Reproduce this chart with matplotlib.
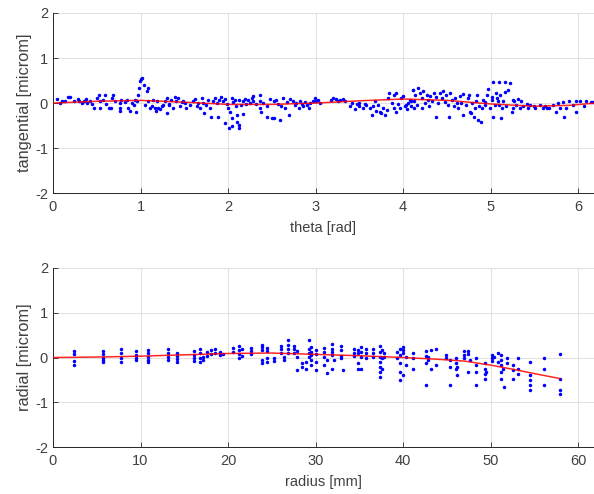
import matplotlib
matplotlib.use("Agg")
import matplotlib.pyplot as plt

plt.rcParams["font.family"] = ["Liberation Sans", "DejaVu Sans"]
plt.rcParams["axes.unicode_minus"] = False

# tangential error vs theta
theta_pts = [
    0.05, 0.08, 0.10, 0.14, 0.17, 0.20, 0.24, 0.29, 0.30, 0.33, 0.35, 0.38, 0.39, 0.42, 0.45, 0.47,
    0.50, 0.52, 0.54, 0.54, 0.57, 0.59, 0.61, 0.64, 0.66, 0.67, 0.69, 0.71, 0.76, 0.76, 0.76, 0.78,
    0.82, 0.85, 0.86, 0.88, 0.90, 0.92, 0.94, 0.95, 0.96, 0.97, 0.98, 0.99, 1.00, 1.02, 1.04, 1.05,
    1.07, 1.08, 1.09, 1.11, 1.13, 1.14, 1.16, 1.18, 1.19, 1.20, 1.22, 1.24, 1.26, 1.28, 1.30, 1.30,
    1.32, 1.33, 1.35, 1.37, 1.39, 1.41, 1.43, 1.45, 1.47, 1.49, 1.51, 1.52, 1.56, 1.60, 1.62, 1.64,
    1.66, 1.68, 1.70, 1.71, 1.73, 1.75, 1.77, 1.79, 1.81, 1.83, 1.85, 1.87, 1.89, 1.90, 1.92, 1.94,
    1.96, 1.97, 1.99, 2.00, 2.01, 2.02, 2.04, 2.05,
    2.04, 2.06, 2.08, 2.09, 2.10, 2.10, 2.12, 2.13, 2.13, 2.15, 2.17, 2.17, 2.19, 2.21, 2.23, 2.25,
    2.27, 2.29, 2.29, 2.32, 2.36, 2.36, 2.37, 2.38, 2.40, 2.44, 2.45, 2.48, 2.50, 2.52, 2.53, 2.55,
    2.57, 2.59, 2.61, 2.63, 2.65, 2.67, 2.70, 2.71, 2.74, 2.76, 2.78, 2.81, 2.82, 2.84, 2.86, 2.88,
    2.90, 2.93, 2.94, 2.97, 2.99, 3.01, 3.03, 3.05, 3.18, 3.20, 3.23, 3.26, 3.28, 3.31, 3.33, 3.39,
    3.41, 3.45, 3.47, 3.49, 3.50, 3.54, 3.56, 3.58, 3.62, 3.64, 3.66, 3.68, 3.69, 3.71, 3.73, 3.75,
    3.77, 3.79, 3.81, 3.83, 3.84, 3.87, 3.89, 3.90, 3.92, 3.92, 3.94, 3.96, 3.98, 4.00, 4.02, 4.03,
    4.04, 4.06, 4.08, 4.09, 4.11, 4.12,
    4.09, 4.11, 4.12, 4.14, 4.16, 4.17, 4.19, 4.21, 4.22, 4.23, 4.25, 4.27, 4.28, 4.30, 4.31, 4.33,
    4.35, 4.37, 4.38, 4.40, 4.42, 4.44, 4.46, 4.48, 4.49, 4.51, 4.52, 4.54, 4.56, 4.58, 4.59, 4.61,
    4.63, 4.65, 4.66, 4.68, 4.68, 4.72, 4.74, 4.75, 4.76, 4.78, 4.79, 4.81, 4.82, 4.83, 4.84, 4.86,
    4.87, 4.89, 4.90, 4.91, 4.93, 4.94, 4.96, 4.97, 4.99, 5.01, 5.02, 5.03, 5.03, 5.05, 5.06, 5.07,
    5.08, 5.10, 5.10, 5.11, 5.12, 5.13, 5.14, 5.16, 5.16, 5.18, 5.20, 5.22, 5.24, 5.25, 5.26, 5.27,
    5.29, 5.31, 5.33, 5.35, 5.37, 5.41, 5.43, 5.45, 5.50, 5.51, 5.56, 5.60, 5.62, 5.64, 5.67, 5.71,
    5.75, 5.77, 5.79, 5.83, 5.84, 5.86, 5.90, 5.94, 5.97, 5.98, 6.02, 6.07, 6.09, 6.15, 6.17,
]
tangential_pts = [
    0.09, 0.00, 0.04, 0.05, 0.13, 0.13, 0.05, 0.10, 0.04, 0.00, 0.05, 0.09, 0.01, 0.05, -0.02, -0.10,
    0.11, 0.19, 0.04, -0.11, 0.07, 0.19, -0.02, -0.10, -0.11, 0.11, 0.17, 0.05, 0.00, -0.11, -0.17, 0.07,
    0.02, 0.07, -0.11, -0.17, 0.00, -0.05, 0.07, -0.20, 0.04, 0.19, 0.33, 0.48, 0.54, 0.56, 0.41, -0.05,
    0.26, 0.33, 0.04, -0.11, -0.07, 0.07, -0.11, -0.17, 0.04, -0.10, -0.13, -0.07, -0.04, 0.04, -0.22, 0.11,
    -0.05, -0.02, 0.07, -0.10, 0.13, 0.04, 0.11, -0.07, 0.02, 0.05, 0.00, -0.11, -0.04, 0.04, 0.10, -0.07,
    0.00, -0.11, 0.11, 0.00, -0.22, -0.04, 0.07, -0.11, -0.32, 0.04, 0.11, 0.00, -0.30, 0.07, 0.13, 0.04,
    0.10, -0.44, -0.02, -0.11, -0.56, -0.19, -0.33, -0.52,
    0.11, 0.02, 0.07, -0.07, -0.26, -0.41, -0.48, -0.56, 0.07, -0.04, -0.24, 0.04, 0.10, -0.02, 0.07, 0.00,
    0.11, 0.04, 0.15, -0.02, 0.17, 0.04, -0.11, -0.19, 0.00, -0.07, -0.30, 0.10, -0.33, 0.04, -0.33, 0.07,
    -0.02, -0.37, -0.07, 0.11, -0.11, 0.02, -0.26, 0.10, 0.05, -0.04, 0.00, -0.11, 0.04, -0.02, -0.07, 0.02,
    -0.04, -0.11, 0.00, 0.05, 0.11, 0.04, 0.07, 0.00, 0.07, 0.11, 0.10, 0.05, 0.07, 0.10, 0.05, -0.07,
    0.00, -0.13, -0.02, -0.07, 0.00, -0.11, -0.02, -0.05, -0.11, -0.26, -0.07, 0.04, -0.17, -0.04, -0.19, -0.22,
    -0.11, -0.26, -0.15, 0.11, 0.22, 0.00, 0.19, -0.11, -0.19, 0.22, -0.02, -0.11, 0.11, 0.15, -0.07, -0.04,
    -0.13, 0.00, 0.07, -0.07, 0.30, 0.04,
    0.04, 0.30, -0.11, 0.19, -0.04, 0.33, 0.22, 0.11, -0.11, 0.26, 0.00, 0.19, 0.07, -0.07, 0.15, 0.04,
    0.22, 0.13, -0.32, 0.00, 0.22, 0.11, 0.26, 0.02, 0.17, -0.04, -0.32, 0.22, 0.07, -0.07, 0.11, 0.00,
    -0.11, 0.15, 0.00, 0.20, -0.26, -0.04, 0.11, 0.19, -0.19, -0.22, 0.00, -0.30, -0.11, 0.04, 0.19, -0.37,
    -0.07, -0.41, -0.11, 0.07, -0.04, 0.02, 0.19, 0.32, -0.11, 0.07, 0.13, 0.47, -0.32, -0.04, 0.22, 0.11,
    0.04, 0.47, -0.05, 0.19, -0.33, -0.11, 0.04, 0.24, 0.47, -0.07, 0.30, 0.44, -0.19, 0.07, -0.11, 0.04,
    -0.04, 0.10, -0.11, 0.04, -0.07, -0.02, -0.11, -0.05, -0.07, -0.11, -0.04, -0.11, -0.07, -0.11, -0.10, -0.05,
    -0.19, 0.00, -0.11, 0.02, -0.30, -0.11, 0.04, -0.04, -0.19, 0.05, 0.05, -0.07, 0.05, 0.02, 0.02,
]
theta_fit = [0.0, 0.5, 1.0, 1.5, 2.0, 2.5, 3.0, 3.5, 4.0, 4.5, 5.0, 5.5, 5.9, 6.2]
tangential_fit = [0.0, 0.04, 0.06, 0.02, -0.03, -0.03, 0.0, 0.05, 0.09, 0.06, -0.02, -0.07, -0.05, 0.0]

# radial error vs radius
radius_pts = [
    2.44, 2.44, 2.44, 2.44, 5.76, 5.76, 5.76, 5.76, 5.76, 7.79, 7.79, 7.79, 7.79, 9.50, 9.50, 9.50, 9.50,
    10.8, 10.8, 10.8, 10.8, 10.8, 13.1, 13.1, 13.1, 13.1, 14.2, 14.2, 14.2, 14.2, 16.1, 16.1, 16.1, 16.1,
    16.8, 16.8, 16.8, 16.8, 17.1, 17.1, 17.6, 17.6, 18.0, 18.0, 18.5, 18.5, 19.1, 19.1, 19.4,
    20.6, 20.6, 21.2, 21.2, 21.2, 21.2, 21.6, 21.6, 22.6, 22.6, 22.6, 23.9, 23.9, 23.9, 23.9, 23.9,
    24.5, 24.5, 24.5, 24.5, 25.2, 25.2, 26.0, 26.0, 26.0, 26.4, 26.4, 26.8, 26.8, 26.8, 26.8,
    27.5, 27.5, 27.5, 27.9, 27.9, 27.9, 28.5, 28.5, 28.9, 28.9, 29.2, 29.2, 29.2, 29.2,
    29.5, 29.5, 29.5, 29.5, 29.5, 30.0, 30.0, 30.0, 30.0, 30.95, 30.95, 30.95, 30.95, 31.3, 31.3,
    31.9, 31.9, 31.9, 31.9, 31.9, 32.1, 32.9, 32.9, 32.9, 32.9, 33.1, 34.4, 34.4, 34.4,
    34.8, 34.8, 34.8, 34.8, 35.2, 35.2, 35.2, 35.2, 35.7, 35.7, 35.7, 36.6, 36.6, 36.6,
    37.3, 37.3, 37.3, 37.3, 37.3, 37.3, 37.3, 37.6, 37.6, 37.6, 37.8, 37.8, 39.3, 39.3,
    39.6, 39.6, 39.6, 39.6, 39.6, 40.0, 40.0, 40.0, 40.0, 40.3, 40.3, 41.1, 41.1, 41.1,
    42.6, 42.6, 42.6, 42.6, 42.8, 42.8, 43.2, 43.2, 43.7, 43.7, 44.9, 44.9, 45.4, 45.4, 45.4,
    46.0, 46.0, 46.0, 46.2, 46.2, 46.9, 46.9, 46.9, 47.4, 47.4, 47.4, 47.6,
    48.3, 48.3, 48.3, 48.3, 49.3, 49.3, 49.3, 49.3, 49.5, 50.2, 50.2, 50.2, 50.4, 50.8, 50.8,
    51.2, 51.2, 51.2, 51.2, 51.2, 51.4, 51.5, 51.9, 51.9, 52.6, 52.6, 52.6, 53.1, 53.1, 53.1,
    54.5, 54.5, 54.5, 54.5, 54.5, 56.1, 56.1, 56.1, 57.9, 57.9, 57.9, 57.9,
]
radial_pts = [
    0.14, 0.07, -0.08, -0.16, 0.14, 0.07, -0.01, -0.06, -0.11, 0.20, 0.09, -0.02, -0.11, 0.14, 0.05, -0.01, -0.06,
    0.16, 0.09, 0.01, -0.06, -0.11, 0.19, 0.09, 0.01, -0.06, 0.11, 0.04, -0.04, -0.10, 0.14, 0.05, -0.02, -0.08,
    0.19, 0.09, -0.02, -0.11, 0.01, -0.06, 0.13, 0.04, 0.16, 0.07, 0.20, 0.09, 0.13, 0.05, 0.07,
    0.22, 0.13, 0.26, 0.16, 0.07, -0.01, 0.20, 0.04, 0.22, 0.14, 0.07, 0.29, 0.24, 0.16, -0.06, -0.13,
    0.22, 0.14, -0.02, -0.11, -0.02, -0.08, 0.26, 0.19, 0.11, 0.01, -0.06, 0.39, 0.29, 0.20, 0.11,
    0.26, 0.19, 0.09, 0.14, 0.01, -0.28, -0.21, -0.13, -0.10, -0.25, 0.39, 0.19, 0.09, 0.01,
    0.24, 0.13, 0.05, -0.06, -0.17, 0.16, 0.07, -0.10, -0.28, 0.22, 0.13, 0.01, -0.17, -0.06, -0.34,
    0.31, 0.20, 0.13, 0.05, -0.25, -0.06, 0.26, 0.16, 0.04, -0.02, -0.28, 0.19, 0.11, 0.04,
    0.16, 0.09, -0.13, -0.25, 0.24, 0.13, 0.01, -0.25, 0.19, 0.09, -0.02, 0.19, 0.09, 0.01,
    0.26, 0.13, 0.01, -0.10, -0.21, -0.32, -0.43, 0.16, -0.02, -0.25, 0.11, 0.01, 0.13, -0.02,
    0.19, 0.05, -0.13, -0.32, -0.51, 0.24, 0.16, 0.09, -0.40, 0.01, -0.16, 0.11, -0.02, -0.25,
    0.14, 0.04, -0.13, -0.61, 0.01, -0.06, 0.16, -0.25, 0.19, -0.17, 0.05, -0.02, -0.06, -0.21, -0.61,
    -0.02, -0.13, -0.25, -0.21, -0.40, 0.14, 0.05, -0.01, 0.14, 0.07, -0.32, -0.06,
    -0.02, -0.17, -0.32, -0.62, -0.13, -0.25, -0.36, -0.47, -0.32, 0.05, -0.02, -0.08, 0.01, 0.09, -0.10,
    0.05, -0.06, -0.17, -0.32, -0.47, -0.25, -0.66, -0.02, -0.13, -0.17, -0.28, -0.47, -0.02, -0.25, -0.36,
    -0.10, -0.40, -0.51, -0.62, -0.73, 0.00, -0.25, -0.62, 0.07, -0.47, -0.73, -0.81,
]
radius_fit = [0, 5, 10, 15, 20, 25, 30, 35, 40, 44, 47, 50, 53, 55, 57.9]
radial_fit = [0.0, 0.01, 0.03, 0.06, 0.09, 0.10, 0.07, 0.04, 0.0, -0.04, -0.08, -0.17, -0.28, -0.36, -0.47]

TEXT = "#404040"
AXIS = "#262626"


def style_axes(ax, xlim, xticks, xlabel, ylabel):
    ax.set_xlim(*xlim)
    ax.set_ylim(-2, 2)
    ax.set_xticks(xticks)
    ax.set_yticks([-2, -1, 0, 1, 2])
    ax.grid(True, color="#dcdcdc", linewidth=0.6)
    ax.set_axisbelow(True)
    for side in ("top", "right"):
        ax.spines[side].set_visible(False)
    for side in ("left", "bottom"):
        ax.spines[side].set_color(AXIS)
        ax.spines[side].set_linewidth(0.7)
    ax.tick_params(direction="in", length=3.5, width=0.6, color=AXIS,
                   labelcolor=TEXT, labelsize=10.5)
    ax.tick_params(axis="x", pad=5)
    ax.set_xlabel(xlabel, fontsize=10.5, color=TEXT, labelpad=5)
    # reference is stretched vertically, so the rotated label runs longer
    ax.set_ylabel(ylabel, fontsize=11.8, color=TEXT, labelpad=2)


fig = plt.figure(figsize=(5.94, 4.94), dpi=100)
ax1 = fig.add_axes([0.0892, 0.609, 0.9108, 0.3647])
ax2 = fig.add_axes([0.0892, 0.0951, 0.9108, 0.3624])

ax1.plot(theta_pts, tangential_pts, ".", color="blue", markersize=3.0, zorder=3)
ax1.plot(theta_fit, tangential_fit, "-", color="red", linewidth=1.1, alpha=0.85, zorder=4)
style_axes(ax1, (0, 6.18), [0, 1, 2, 3, 4, 5, 6], "theta [rad]", "tangential [microm]")

ax2.plot(radius_pts, radial_pts, ".", color="blue", markersize=3.0, zorder=3)
ax2.plot(radius_fit, radial_fit, "-", color="red", linewidth=1.1, alpha=0.85, zorder=4)
style_axes(ax2, (0, 61.8), [0, 10, 20, 30, 40, 50, 60], "radius [mm]", "radial [microm]")

fig.savefig("out.png", dpi=100)
